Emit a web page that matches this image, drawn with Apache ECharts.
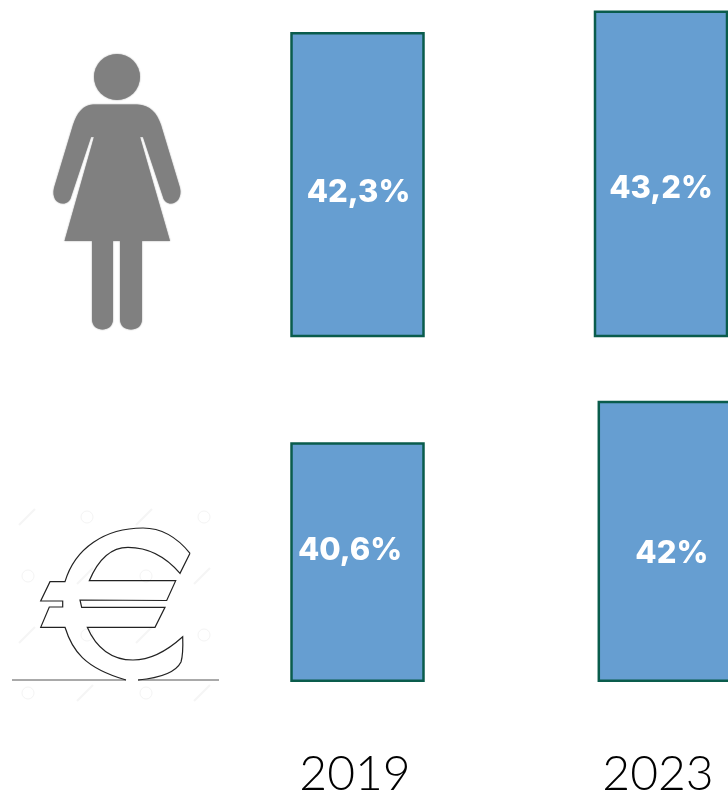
<!DOCTYPE html>
<html>
<head>
<meta charset="utf-8">
<style>html,body{margin:0;padding:0;background:#fff}#c{width:728px;height:792px}</style>
<script src="https://cdn.jsdelivr.net/npm/echarts@6/dist/echarts.min.js"></script>
</head>
<body>
<div id="c"></div>
<script>
const categories = ['2019', '2023'];
const womenShare = [42.3, 43.2];
const earningsShare = [40.6, 42];

const BAR = '#669ED1', EDGE = '#0A5C4C', ICON = '#808080';
const womanLabelOffset = [[1, 8], [0, 15]];
const euroLabelOffset = [[-7.5, -11.5], [7, 12]];

const fmt = v => String(v).replace('.', ',') + '%';
const labelFont = { color: '#fff', fontFamily: 'Inter', fontWeight: 800, fontSize: 31 };

function barSeries(values, offsets, axisIndex) {
  return {
    type: 'bar', xAxisIndex: axisIndex, yAxisIndex: axisIndex, barWidth: 134.5, silent: true,
    animation: false,
    itemStyle: { color: BAR, borderColor: EDGE, borderWidth: 2.5 },
    data: values.map((v, i) => ({
      value: v,
      label: Object.assign({ show: true, position: 'inside', offset: offsets[i],
        formatter: p => fmt(p.value) }, labelFont)
    }))
  };
}
function hiddenX(i) {
  return { type: 'category', gridIndex: i, data: categories, show: false };
}
function hiddenY(i, min, max) {
  return { type: 'value', gridIndex: i, min, max, show: false };
}

const womanPath = 'M93 104.5 L137 104.5 C150 105 157 113 161 125 L180 188 C182 197 177 203.5 171 203.5 C167 203.5 164 201 163 197 L143 137 L140 137 L170 241 L142 241 L142 319 C142 326 137 329.5 131 329.5 C125 329.5 120 326 120 319 L120 241 L113 241 L113 319 C113 326 108 329.5 102.5 329.5 C97 329.5 92 326 92 319 L92 241 L64.5 241 L94 137 L91 137 L71 197 C70 201 67 203.5 63 203.5 C56 203.5 52 197 54 188 L73 125 C77 113 83 105 93 104.5 Z';
const euroPath = 'M190 553.3 C176 536 160 528 143 528 C105 528 75 548 65 581.7 L50 581.7 L40.7 601 L62.7 601 L62.7 607 L49.3 607 L40.7 627.3 L65 627.3 C72 650 84 668 126 680 M138 680 C160 678 176 672 181 662 C183 655 183 645 182.7 636.7 C168 650 150 660 133 660 C112 660 96 648 87.3 627.3 L155 627.3 L165 607.3 L81.7 607.3 L80 600 L166.7 600.5 L175.7 580.7 L89.3 580.7 C98 560 110 547.3 128 547.3 C148 547.3 166 557 180 573.3 L190 553.3';

const circleMarks = [[87, 517], [204, 517], [28, 576], [146, 576], [87, 635], [204, 635], [28, 693], [146, 693]];
const stripeMarks = [[27, 517], [144, 517], [85, 576], [202, 576], [27, 635], [144, 635], [85, 693], [202, 693]];
const watermark = circleMarks.map(m => ({
  type: 'circle', shape: { cx: m[0], cy: m[1], r: 6 }, silent: true,
  style: { fill: 'none', stroke: '#f4f4f4', lineWidth: 1 }
})).concat(stripeMarks.map(m => ({
  type: 'line', shape: { x1: m[0] - 8, y1: m[1] + 8, x2: m[0] + 8, y2: m[1] - 8 }, silent: true,
  style: { stroke: '#f5f5f5', lineWidth: 2 }
})));

const iconSeries = {
  type: 'custom', coordinateSystem: 'none', silent: true, animation: false, data: [0],
  renderItem: () => ({
    type: 'group',
    children: [
      { type: 'path', shape: { pathData: womanPath }, style: { fill: ICON, shadowBlur: 1.5, shadowColor: ICON } },
      { type: 'path', shape: { pathData: euroPath }, style: { fill: 'none', stroke: '#222', lineWidth: 1.2 } }
    ]
  })
};

const option = {
  backgroundColor: '#fff',
  animation: false,
  grid: [
    { left: 205.75, top: -1, width: 607, height: 337, outerBoundsMode: 'none' },
    { left: 203.85, top: 389, width: 614.6, height: 291.7, outerBoundsMode: 'none' },
    { left: 203.5, top: 742, width: 606, height: 1, outerBoundsMode: 'none' }
  ],
  xAxis: [
    hiddenX(0), hiddenX(1),
    { type: 'category', gridIndex: 2, data: categories,
      axisLine: { show: false }, axisTick: { show: false },
      axisLabel: { margin: 8, color: '#000', fontFamily: 'Lato', fontWeight: 300, fontSize: 48, interval: 0 } }
  ],
  yAxis: [hiddenY(0, 29.58, 43.68), hiddenY(1, 32.52, 42.4), hiddenY(2, 0, 1)],
  series: [
    barSeries(womenShare, womanLabelOffset, 0),
    barSeries(earningsShare, euroLabelOffset, 1),
    iconSeries
  ],
  graphic: [
    { type: 'circle', shape: { cx: 117, cy: 77, r: 23 }, silent: true,
      style: { fill: ICON, shadowBlur: 1.5, shadowColor: ICON } },
    ...watermark,
    { type: 'line', shape: { x1: 12, y1: 680, x2: 126, y2: 680 }, silent: true,
      style: { stroke: '#555', lineWidth: 1 } },
    { type: 'line', shape: { x1: 138, y1: 680, x2: 219, y2: 680 }, silent: true,
      style: { stroke: '#555', lineWidth: 1 } }
  ]
};
echarts.init(document.getElementById('c'), null, { renderer: 'canvas' }).setOption(option);
</script>
</body>
</html>
